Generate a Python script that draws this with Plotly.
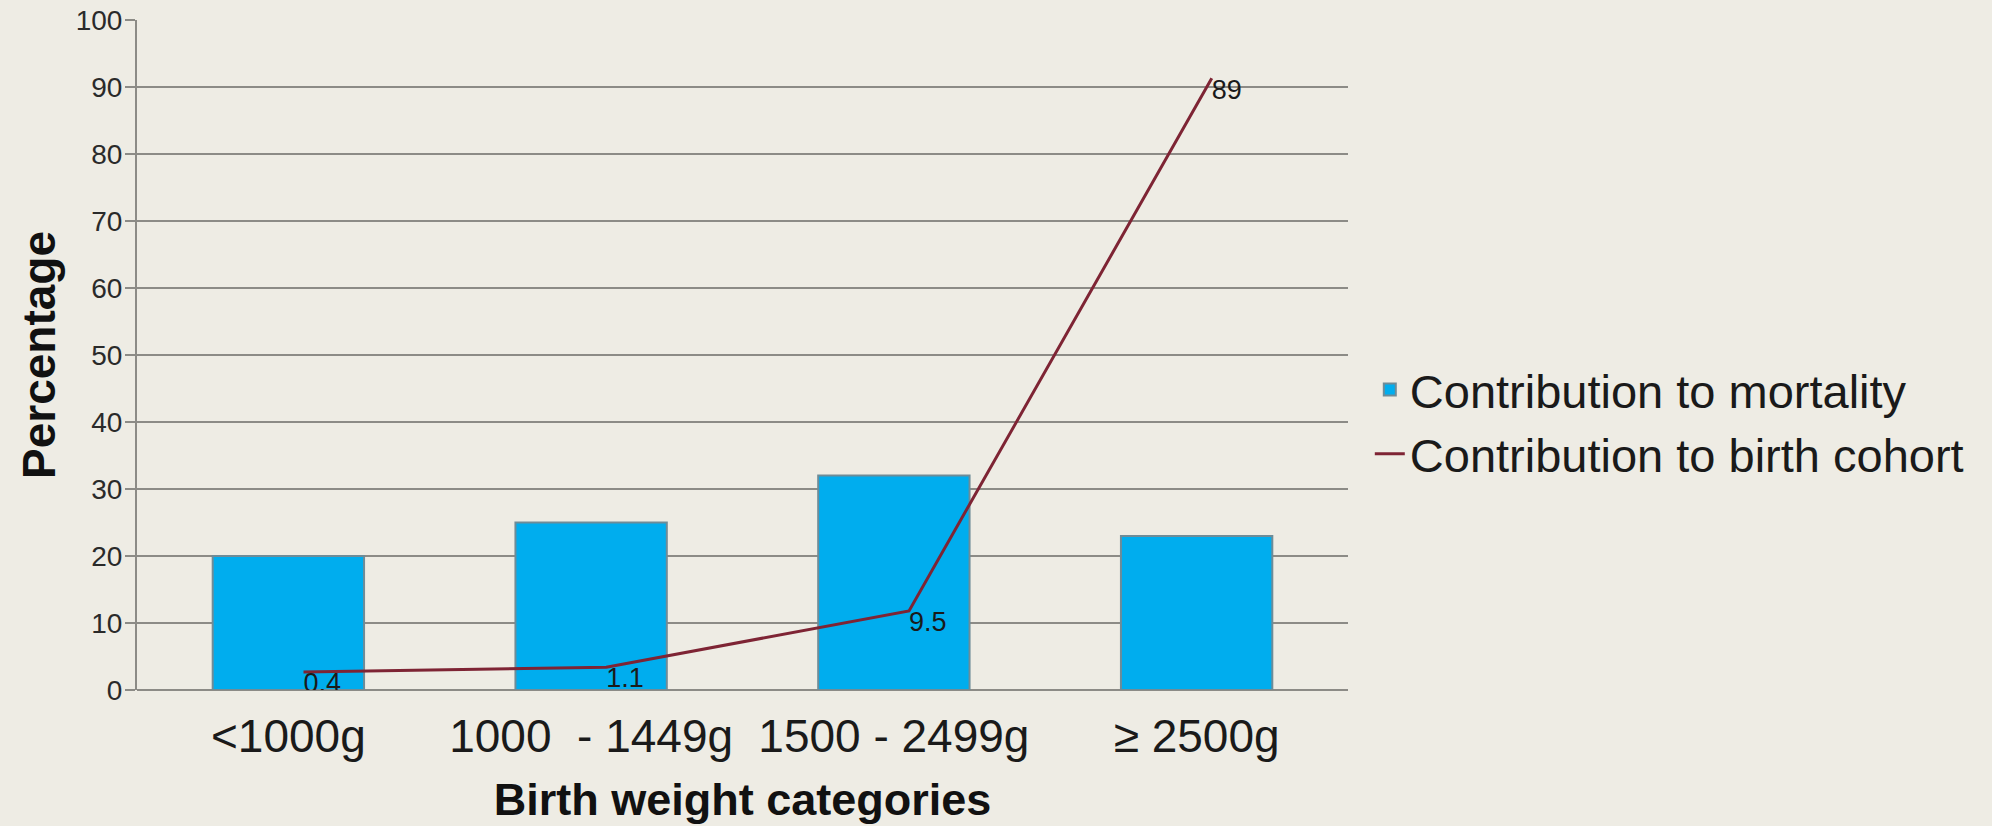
import plotly.graph_objects as go

categories = ["<1000g", "1000\u00a0 - 1449g", "1500 - 2499g", "\u2265 2500g"]
mortality = [20, 25, 32, 23]
birth_cohort = [0.4, 1.1, 9.5, 89]
birth_cohort_labels = ["0.4", "1.1", "9.5", "89"]
y_ticks = [0, 10, 20, 30, 40, 50, 60, 70, 80, 90, 100]

BG = "#EEECE4"
FONT = "Liberation Sans, Arial, sans-serif"

fig = go.Figure()
fig.add_trace(go.Bar(
    x=categories, y=mortality, name="Contribution to mortality",
    marker=dict(color="#00ADEE", line=dict(color="#6E8C98", width=2)),
    xaxis="x", yaxis="y",
))
fig.add_trace(go.Scatter(
    x=categories, y=birth_cohort, name="Contribution to birth cohort",
    mode="lines+text", text=birth_cohort_labels, textposition="bottom right",
    textfont=dict(family=FONT, size=27, color="#1A1A1A"),
    line=dict(color="#7E2434", width=3),
    xaxis="x2", yaxis="y2",
))

fig.update_layout(
    width=1992, height=826,
    paper_bgcolor=BG, plot_bgcolor=BG,
    margin=dict(l=137, r=644, t=20, b=136),
    bargap=0.5,
    showlegend=True,
    legend=dict(
        x=1.018, y=0.40, xanchor="left", yanchor="middle",
        font=dict(family=FONT, size=47, color="#1A1A1A"),
        bgcolor="rgba(0,0,0,0)", tracegroupgap=0,
    ),
    xaxis=dict(
        type="category", range=[-0.5, 3.5],
        showline=False, showgrid=False, ticks="",
        tickangle=0, ticklabelstandoff=15,
        tickfont=dict(family=FONT, size=46, color="#1A1A1A"),
        title=dict(text="<b>Birth weight categories</b>",
                   font=dict(family=FONT, size=45, color="#111111"), standoff=22),
        automargin=False,
    ),
    xaxis2=dict(
        type="category", range=[-0.55, 3.45], overlaying="x",
        showline=False, showgrid=False, showticklabels=False, ticks="",
        automargin=False,
    ),
    yaxis=dict(
        range=[0, 100], tickvals=y_ticks, ticktext=[str(v) for v in y_ticks],
        showgrid=True, gridcolor="#8C8B86", gridwidth=2,
        zeroline=True, zerolinecolor="#8C8B86", zerolinewidth=2,
        showline=True, linecolor="#8C8B86", linewidth=2,
        ticks="outside", ticklen=10, tickcolor="#8C8B86", tickwidth=2,
        ticklabelstandoff=-3,
        tickfont=dict(family=FONT, size=28, color="#2A2A2A"),
        title=dict(text="<b>Percentage</b>",
                   font=dict(family=FONT, size=46, color="#111111"), standoff=6),
        automargin=False,
    ),
    yaxis2=dict(
        range=[-2.3, 97.7], overlaying="y", showgrid=False, zeroline=False,
        showline=False, showticklabels=False, ticks="",
        automargin=False,
    ),
)

fig.write_html("out.html")
